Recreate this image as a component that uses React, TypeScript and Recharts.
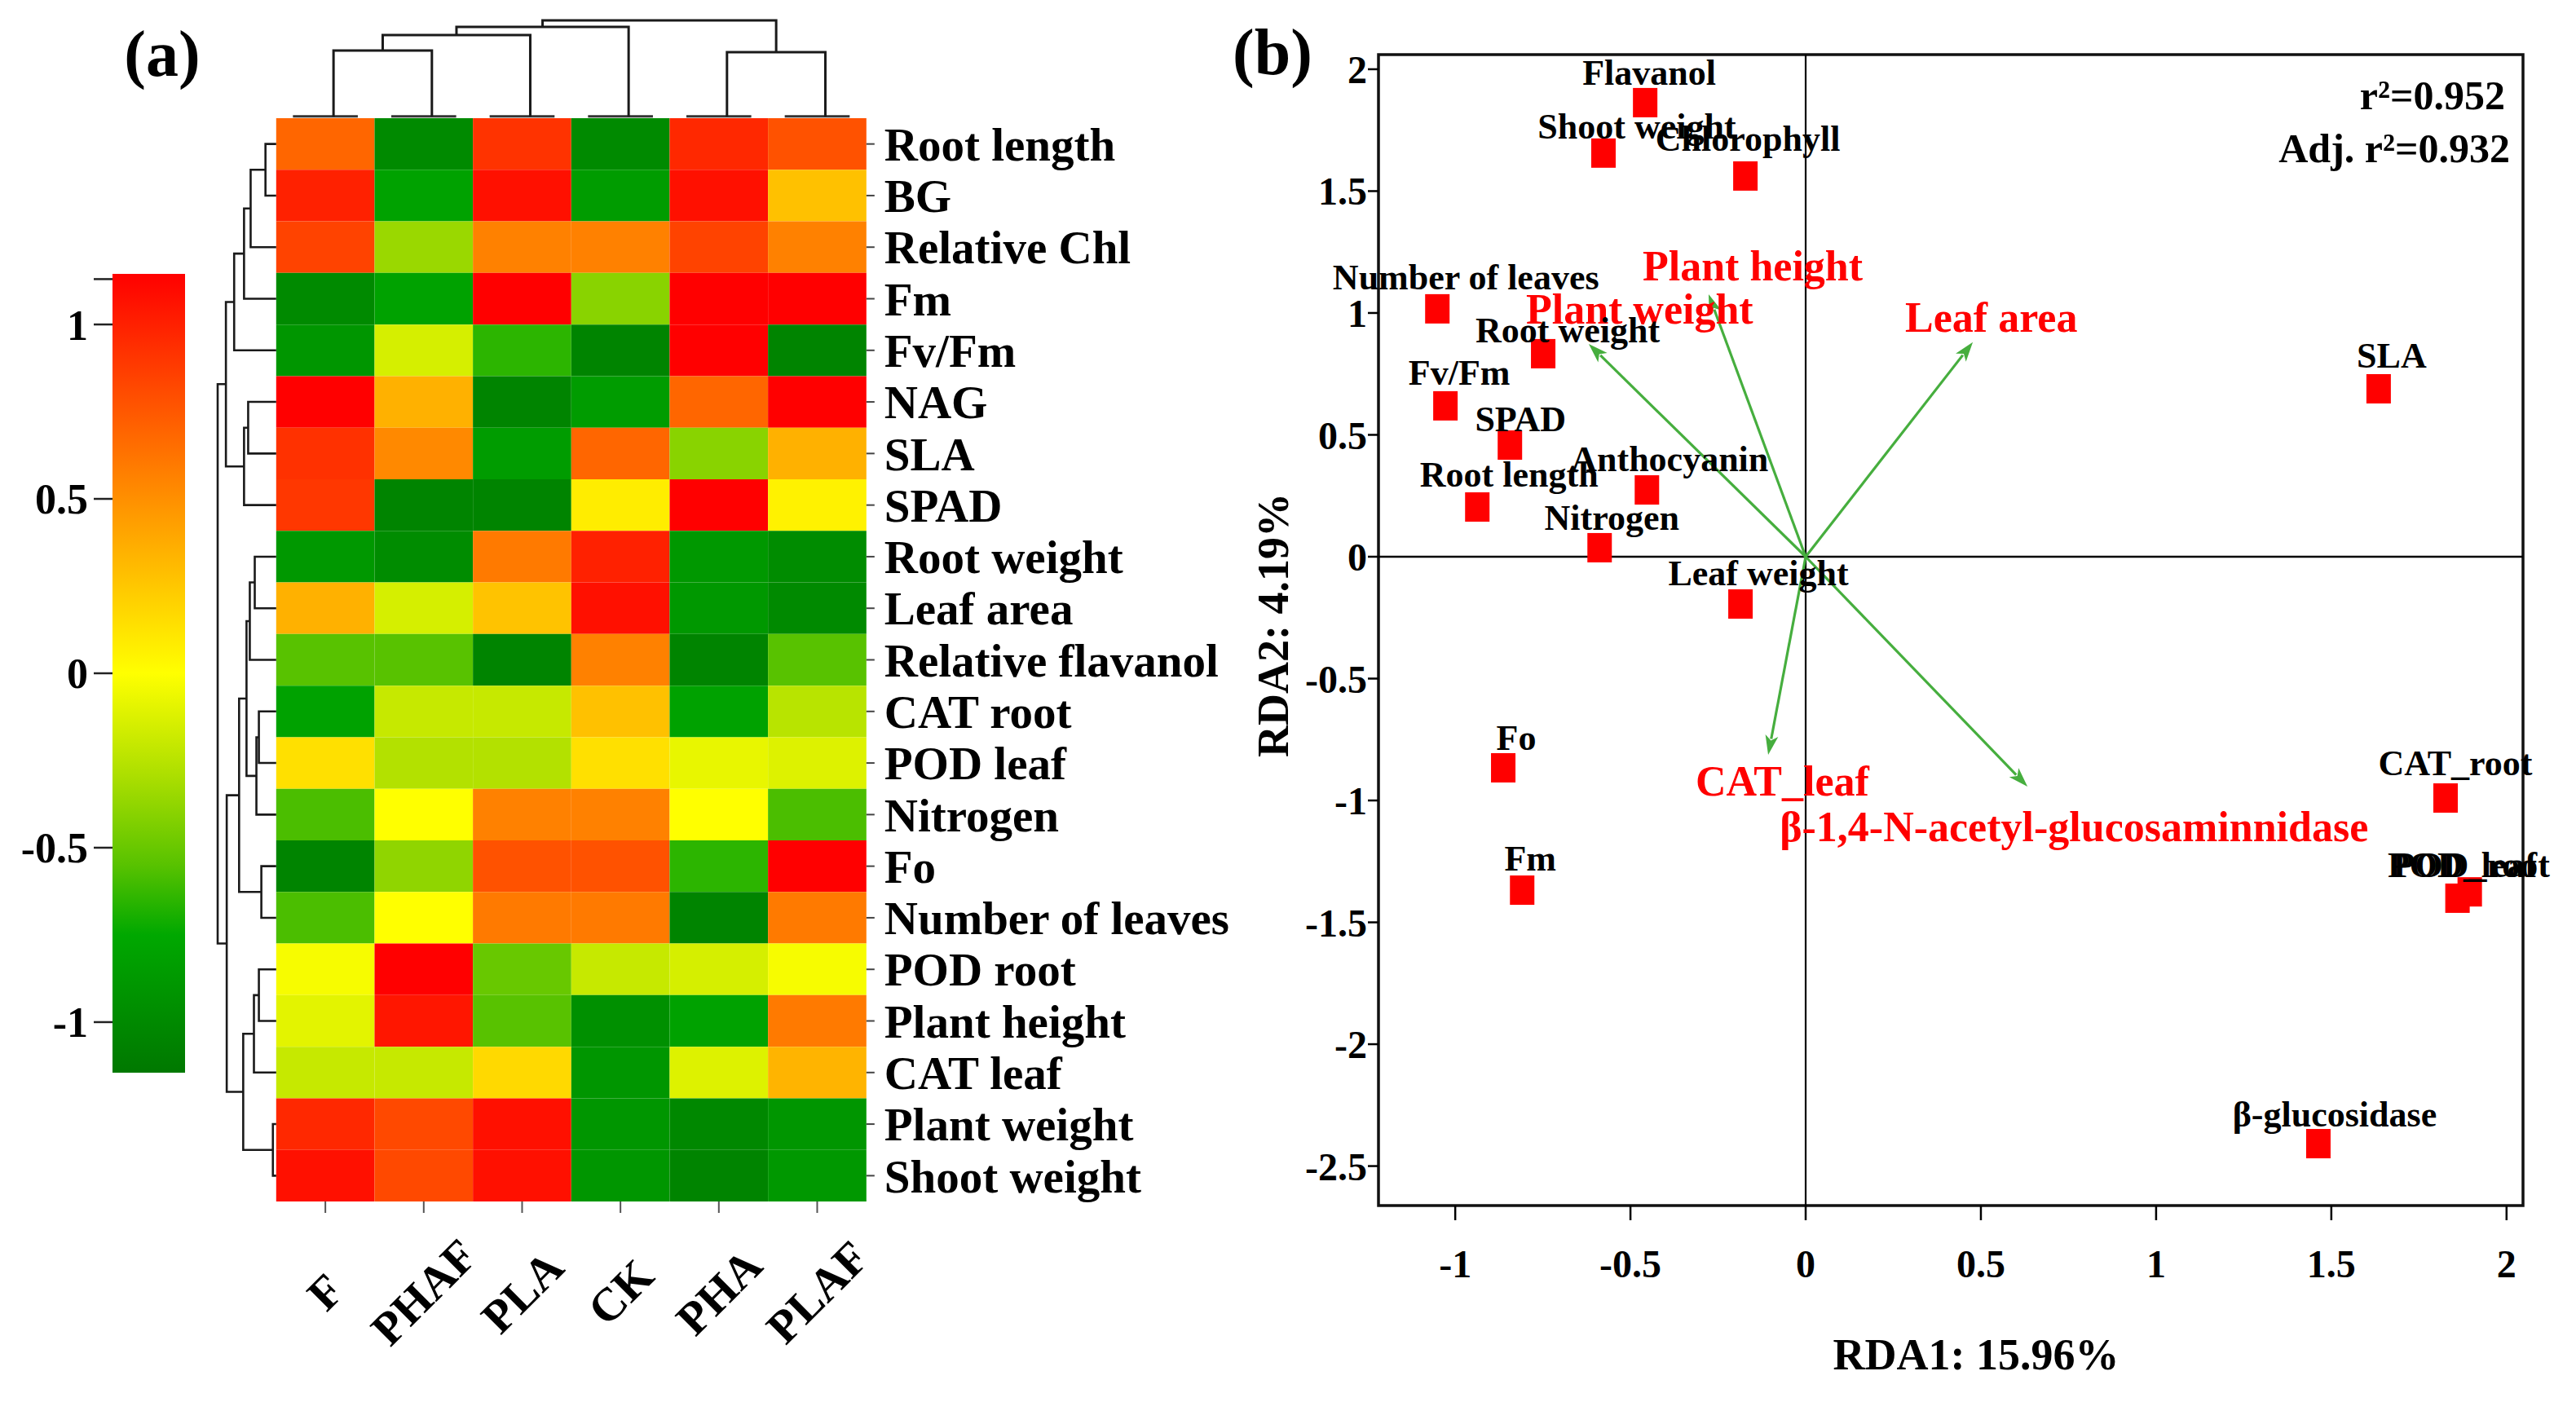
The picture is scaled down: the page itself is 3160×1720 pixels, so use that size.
import React from 'react';
import { ScatterChart, Scatter, XAxis, YAxis, ReferenceArea, ReferenceLine } from 'recharts';

// ---------------- DATA ----------------
const treatments = ['F', 'PHAF', 'PLA', 'CK', 'PHA', 'PLAF'];
const traits = [
  'Root length', 'BG', 'Relative Chl', 'Fm', 'Fv/Fm', 'NAG', 'SLA', 'SPAD',
  'Root weight', 'Leaf area', 'Relative flavanol', 'CAT root', 'POD leaf', 'Nitrogen',
  'Fo', 'Number of leaves', 'POD root', 'Plant height', 'CAT leaf', 'Plant weight', 'Shoot weight',
];
// z-scores, one row per trait, columns follow `treatments`
const heatValues: number[][] = [
  [0.69, -1.0, 0.92, -1.0, 0.97, 0.78],
  [1.0, -0.8, 1.08, -0.85, 1.08, 0.28],
  [0.85, -0.35, 0.57, 0.57, 0.85, 0.57],
  [-1.0, -0.8, 1.15, -0.4, 1.15, 1.15],
  [-0.9, -0.15, -0.65, -1.05, 1.15, -1.05],
  [1.15, 0.35, -1.05, -0.85, 0.69, 1.15],
  [0.93, 0.53, -0.85, 0.69, -0.4, 0.35],
  [0.9, -1.05, -1.05, 0.08, 1.15, 0.06],
  [-0.88, -0.98, 0.6, 1.0, -0.88, -0.98],
  [0.35, -0.15, 0.27, 1.08, -0.88, -1.0],
  [-0.55, -0.55, -1.05, 0.57, -1.05, -0.55],
  [-0.8, -0.2, -0.2, 0.28, -0.8, -0.25],
  [0.14, -0.27, -0.27, 0.14, -0.08, -0.12],
  [-0.58, 0.0, 0.57, 0.57, 0.0, -0.58],
  [-1.05, -0.38, 0.78, 0.78, -0.65, 1.15],
  [-0.58, 0.0, 0.6, 0.6, -1.05, 0.6],
  [-0.03, 1.15, -0.5, -0.2, -0.15, -0.03],
  [-0.1, 1.05, -0.55, -0.95, -0.8, 0.6],
  [-0.2, -0.2, 0.17, -0.9, -0.12, 0.34],
  [0.97, 0.82, 1.08, -0.9, -1.02, -0.9],
  [1.08, 0.82, 1.08, -0.9, -1.05, -0.88],
];
// hierarchical clustering merges: [childA, childB, height]; ids >= n are earlier merges
const rowMerges: [number, number, number][] = [
  [0, 1, 13], [21, 2, 31], [22, 3, 39], [23, 4, 51], [5, 6, 34], [25, 7, 39], [24, 26, 61],
  [8, 9, 26], [28, 10, 32], [11, 12, 21], [30, 13, 24], [29, 31, 36], [14, 15, 18], [32, 33, 45],
  [16, 17, 21], [35, 18, 27], [19, 20, 4], [36, 37, 40], [34, 38, 60], [27, 39, 71],
];
const colMerges: [number, number, number][] = [
  [0, 1, 81], [6, 2, 100], [7, 3, 110], [4, 5, 79], [8, 9, 118],
];
const colorbarTicks = [1.13, 1, 0.5, 0, -0.5, -1];
const colorbarRange = [-1.145, 1.145];

// RDA sample/response scores
const speciesNames = [
  'Flavanol', 'Shoot weight', 'Chlorophyll', 'Number of leaves', 'Root weight', 'Fv/Fm', 'SPAD',
  'Anthocyanin', 'Root length', 'Nitrogen', 'Leaf weight', 'Fo', 'Fm', 'CAT_root', 'POD_root',
  'POD_leaf', 'β-glucosidase', 'SLA',
];
const speciesRda1 = [-0.458, -0.577, -0.172, -1.051, -0.749, -1.028, -0.844, -0.453, -0.937, -0.588, -0.186, -0.863, -0.809, 1.826, 1.895, 1.86, 1.463, 1.635];
const speciesRda2 = [1.863, 1.656, 1.562, 1.017, 0.833, 0.619, 0.458, 0.274, 0.204, 0.037, -0.194, -0.866, -1.368, -0.99, -1.375, -1.401, -2.408, 0.689];
const envNames = ['Plant height', 'Plant weight', 'Leaf area', 'CAT_leaf', 'β-1,4-N-acetyl-glucosaminnidase'];
const envRda1 = [-0.277, -0.619, 0.477, -0.107, 0.633];
const envRda2 = [1.077, 0.873, 0.88, -0.813, -0.943];
const rdaXTicks = [-1, -0.5, 0, 0.5, 1, 1.5, 2];
const rdaYTicks = [-2.5, -2, -1.5, -1, -0.5, 0, 0.5, 1, 1.5, 2];
const rdaXDomain = [-1.219, 2.047];
const rdaYDomain = [-2.662, 2.06];

// ---------------- STYLE / LAYOUT ----------------
const FONT = '"Liberation Serif", "Times New Roman", serif';
const colorStops: [number, [number, number, number]][] = [
  [-1.15, [0, 120, 0]],
  [-0.75, [0, 168, 0]],
  [-0.55, [88, 194, 0]],
  [-0.3, [170, 222, 0]],
  [0, [255, 255, 0]],
  [1.15, [255, 0, 0]],
];
function toHex(c: number[]) {
  return '#' + c.map((v) => Math.round(v).toString(16).padStart(2, '0')).join('');
}
function colorFor(v: number) {
  const x = Math.max(colorStops[0][0], Math.min(colorStops[colorStops.length - 1][0], v));
  for (let i = 0; i < colorStops.length - 1; i++) {
    const [a, ca] = colorStops[i];
    const [b, cb] = colorStops[i + 1];
    if (x >= a && x <= b) {
      const t = (x - a) / (b - a);
      return toHex([0, 1, 2].map((k) => ca[k] + (cb[k] - ca[k]) * t));
    }
  }
  return toHex(colorStops[colorStops.length - 1][1]);
}
// label nudges (px) relative to point centre: [dx, dy]
const speciesLabelNudge: [number, number][] = [
  [5, -22], [41, -18], [3, -31], [35, -24], [30, -14], [17, -26], [13, -17], [28, -23], [39, -25],
  [15, -22], [22, -23], [16, -22], [10, -24], [12, -28], [2, -18], [6, -26], [20, -21], [16, -26],
];
const envLabelNudge: [number, number][] = [[-81, -17], [-77, -25], [-83, -13], [-89, 50], [-304, 67]];

const Empty = () => <g />;

function dendroSegments(n: number, merges: [number, number, number][]) {
  const pos: number[] = [];
  const ht: number[] = [];
  for (let i = 0; i < n; i++) { pos[i] = i + 0.5; ht[i] = 0; }
  const segs: { p: number; h: number }[][] = [];
  merges.forEach(([a, b, h], k) => {
    const id = n + k;
    pos[id] = (pos[a] + pos[b]) / 2;
    ht[id] = h;
    segs.push([{ p: pos[a], h: ht[a] }, { p: pos[a], h }, { p: pos[b], h }, { p: pos[b], h: ht[b] }]);
  });
  return segs;
}

const cells = heatValues.flatMap((row, r) => row.map((v, c) => ({ r, c, v, x: c + 0.5, y: r + 0.5 })));
const colSegs = dendroSegments(treatments.length, colMerges).map((s) => s.map((q) => ({ x: q.p, y: q.h })));
const rowSegs = dendroSegments(traits.length, rowMerges).map((s) => s.map((q) => ({ x: q.h, y: q.p })));
const species = speciesNames.map((name, i) => ({ name, i, x: speciesRda1[i], y: speciesRda2[i] }));

const ColTick = (props: any) => {
  const { x, y, payload } = props;
  const cy = y + 95;
  const label = treatments[Math.floor(payload.value)];
  return (
    <text x={x} y={cy} transform={`rotate(-45 ${x} ${cy})`} textAnchor="middle" dominantBaseline="central"
      fontFamily={FONT} fontWeight="bold" fontSize={57} fill="#000">{label}</text>
  );
};

const ArrowShape = (props: any) => {
  const { x1, y1, x2, y2, idx } = props;
  if ([x1, y1, x2, y2].some((v) => typeof v !== 'number' || isNaN(v))) return <g />;
  const ang = Math.atan2(y2 - y1, x2 - x1);
  const L = 24, W = 8;
  const bx = x2 - L * Math.cos(ang), by = y2 - L * Math.sin(ang);
  const px = -Math.sin(ang) * W, py = Math.cos(ang) * W;
  const [dx, dy] = envLabelNudge[idx];
  return (
    <g>
      <line x1={x1} y1={y1} x2={bx + 4 * Math.cos(ang)} y2={by + 4 * Math.sin(ang)} stroke="#46AE3E" strokeWidth={3.2} />
      <polygon points={`${x2},${y2} ${bx + px},${by + py} ${bx + 6 * Math.cos(ang)},${by + 6 * Math.sin(ang)} ${bx - px},${by - py}`} fill="#46AE3E" />
      <text x={x2 + dx} y={y2 + dy} textAnchor="start" fontFamily={FONT} fontWeight="bold" fontSize={52} fill="#FF0000">{envNames[idx]}</text>
    </g>
  );
};

const SquareShape = (props: any) => {
  const { cx, cy } = props;
  return <rect x={cx - 15} y={cy - 18} width={30} height={36} fill="#FF0000" />;
};
const SpeciesLabel = (props: any) => {
  const { cx, cy, payload } = props;
  const [dx, dy] = speciesLabelNudge[payload.i];
  return (
    <text x={cx + dx} y={cy + dy} textAnchor="middle" fontFamily={FONT} fontWeight="bold" fontSize={44} fill="#000">{payload.name}</text>
  );
};

const gradStops = colorStops
  .filter(([v]) => v >= colorbarRange[0] - 0.01)
  .map(([v, c]) => ({ off: Math.min(1, Math.max(0, (colorbarRange[1] - v) / (colorbarRange[1] - colorbarRange[0]))), col: toHex(c) }))
  .sort((a, b) => a.off - b.off);

const abs = (l: number, t: number): React.CSSProperties => ({ position: 'absolute', left: l, top: t });

export default function App() {
  return (
    <div style={{ position: 'absolute', left: 0, top: 0, width: 3160, height: 1720, background: '#fff', overflow: 'hidden' }}>
      <svg width={0} height={0} style={{ position: 'absolute' }}>
        <defs>
          <linearGradient id="cbGrad" x1="0" y1="0" x2="0" y2="1">
            {gradStops.map((s, i) => <stop key={i} offset={s.off} stopColor={s.col} />)}
          </linearGradient>
        </defs>
      </svg>

      {/* Heatmap */}
      <div style={abs(0, 0)}>
        <ScatterChart width={1600} height={1720} margin={{ top: 145, left: 338.8, right: 37.2, bottom: 46 }}>
          <XAxis type="number" dataKey="x" domain={[0, 6]} ticks={[0.5, 1.5, 2.5, 3.5, 4.5, 5.5]} height={200}
            axisLine={false} tickSize={14} tickLine={{ stroke: '#555', strokeWidth: 2 }} tick={<ColTick />} interval={0} />
          <YAxis type="number" dataKey="y" domain={[0, 21]} reversed orientation="right" width={500}
            ticks={traits.map((_, i) => i + 0.5)} interval={0} axisLine={false} tickSize={10} tickMargin={12}
            tickLine={{ stroke: '#444', strokeWidth: 2 }}
            tickFormatter={(v: number) => traits[Math.floor(v)]}
            tick={{ fontFamily: FONT, fontWeight: 'bold', fontSize: 57, fill: '#000' }} />
          {cells.map((d) => (
            <ReferenceArea key={`${d.r}-${d.c}`} x1={d.c} x2={d.c + 1} y1={d.r} y2={d.r + 1}
              fill={colorFor(d.v)} fillOpacity={1} stroke="none" ifOverflow="visible" />
          ))}
          {treatments.map((t, i) => (
            <ReferenceLine key={t} segment={[{ x: i + 0.17, y: -0.035 }, { x: i + 0.83, y: -0.035 }]}
              stroke="#333" strokeWidth={3} ifOverflow="visible" />
          ))}
          <Scatter data={cells} shape={Empty} isAnimationActive={false} />
        </ScatterChart>
      </div>

      {/* Column dendrogram */}
      <div style={abs(0, 0)}>
        <ScatterChart width={1600} height={160} margin={{ top: 25, left: 348.8, right: 1600 - 1072.8, bottom: 17 }}>
          <XAxis type="number" dataKey="x" domain={[0, 6]} hide />
          <YAxis type="number" dataKey="y" domain={[0, 118]} hide />
          {colSegs.map((s, i) => (
            <Scatter key={i} data={s} line={{ stroke: '#1a1a1a', strokeWidth: 3 }} shape={Empty} isAnimationActive={false} />
          ))}
        </ScatterChart>
      </div>

      {/* Row dendrogram */}
      <div style={abs(0, 0)}>
        <ScatterChart width={400} height={1720} margin={{ top: 145, left: 266, right: 400 - 338.8, bottom: 246 }}>
          <XAxis type="number" dataKey="x" domain={[0, 72]} reversed hide />
          <YAxis type="number" dataKey="y" domain={[0, 21]} reversed hide />
          {rowSegs.map((s, i) => (
            <Scatter key={i} data={s} line={{ stroke: '#1a1a1a', strokeWidth: 2.6 }} shape={Empty} isAnimationActive={false} />
          ))}
        </ScatterChart>
      </div>

      {/* Colour bar */}
      <div style={abs(0, 0)}>
        <ScatterChart width={240} height={1720} margin={{ top: 336, left: 0, right: 13, bottom: 404 }}>
          <XAxis type="number" dataKey="x" domain={[0, 1]} hide />
          <YAxis type="number" dataKey="y" domain={colorbarRange} ticks={colorbarTicks} interval={0} width={138}
            axisLine={false} tickSize={23} tickMargin={7} tickLine={{ stroke: '#222', strokeWidth: 2.5 }}
            tickFormatter={(v: number) => (v > 1.05 ? '' : String(v))}
            tick={{ fontFamily: FONT, fontWeight: 'bold', fontSize: 52, fill: '#000' }} />
          <ReferenceArea x1={0} x2={1} y1={colorbarRange[0]} y2={colorbarRange[1]} fill="url(#cbGrad)" fillOpacity={1} stroke="none" />
          <Scatter data={[{ x: 0.5, y: 0 }]} shape={Empty} isAnimationActive={false} />
        </ScatterChart>
      </div>

      {/* RDA biplot */}
      <div style={abs(1400, 0)}>
        <ScatterChart width={1760} height={1720} margin={{ top: 67, left: 171, right: 65, bottom: 121 }}>
          <XAxis type="number" dataKey="x" domain={rdaXDomain} ticks={rdaXTicks} interval={0} height={120}
            axisLine={false} tickSize={18} tickMargin={36} tickLine={{ stroke: '#000', strokeWidth: 2.5 }}
            tick={{ fontFamily: FONT, fontWeight: 'bold', fontSize: 48, fill: '#000' }} />
          <YAxis type="number" dataKey="y" domain={rdaYDomain} ticks={rdaYTicks} interval={0} width={120}
            axisLine={false} tickSize={13} tickMargin={1} tickLine={{ stroke: '#000', strokeWidth: 2.5 }}
            tick={{ fontFamily: FONT, fontWeight: 'bold', fontSize: 48, fill: '#000' }} />
          <ReferenceArea x1={rdaXDomain[0]} x2={rdaXDomain[1]} y1={rdaYDomain[0]} y2={rdaYDomain[1]}
            fill="none" stroke="#111" strokeWidth={3.5} ifOverflow="visible" />
          <ReferenceLine x={0} stroke="#000" strokeWidth={2.2} />
          <ReferenceLine y={0} stroke="#000" strokeWidth={2.5} />
          {envNames.map((n, i) => (
            <ReferenceLine key={n} segment={[{ x: 0, y: 0 }, { x: envRda1[i], y: envRda2[i] }]} ifOverflow="visible"
              shape={(p: any) => <ArrowShape {...p} idx={i} />} />
          ))}
          <Scatter data={species} shape={SquareShape} isAnimationActive={false} />
          <Scatter data={species} shape={SpeciesLabel} isAnimationActive={false} />
        </ScatterChart>
      </div>

      {/* Panel texts */}
      <svg width={3160} height={1720} style={{ position: 'absolute', left: 0, top: 0, pointerEvents: 'none' }}>
        <g fontFamily={FONT} fontWeight="bold" fill="#000">
          <text x={199} y={93} fontSize={80} textAnchor="middle">(a)</text>
          <text x={1561} y={91} fontSize={80} textAnchor="middle">(b)</text>
          <text x={2424} y={1680} fontSize={54} textAnchor="middle">RDA1: 15.96%</text>
          <text x={1580} y={767} fontSize={54} textAnchor="middle" transform="rotate(-90 1580 767)">RDA2: 4.19%</text>
          <text x={3073} y={134} fontSize={50} textAnchor="end">r²=0.952</text>
          <text x={3079} y={199} fontSize={50} textAnchor="end">Adj. r²=0.932</text>
        </g>
      </svg>
    </div>
  );
}
